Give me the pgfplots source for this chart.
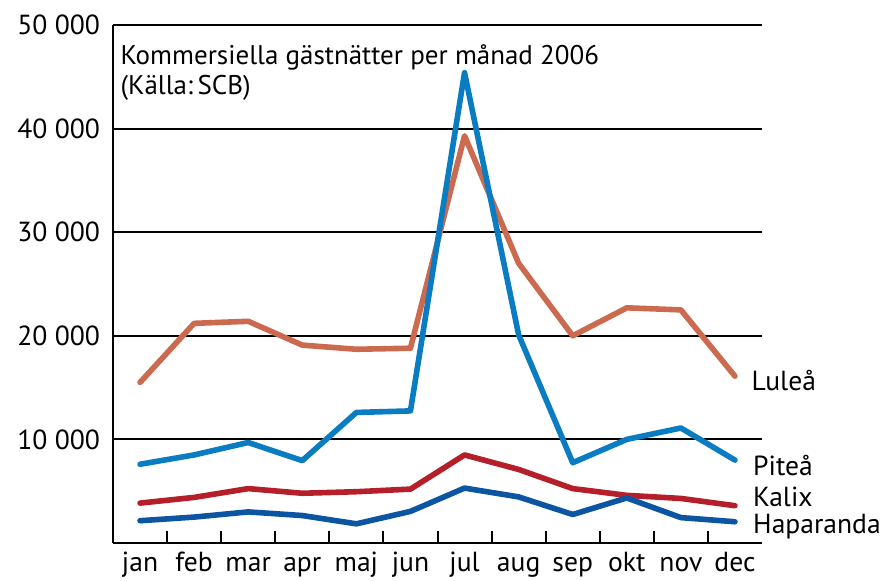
\documentclass[border=0pt]{standalone}
\usepackage{fontspec}
\setmainfont{PT Sans}
\usepackage{pgfplots}
\pgfplotsset{compat=1.18}
\definecolor{lulea}{HTML}{CC6A50}
\definecolor{pitea}{HTML}{0A7DC2}
\definecolor{kalix}{HTML}{B51F2A}
\definecolor{hapa}{HTML}{0B55A3}
\begin{document}
\begin{tikzpicture}
\path[use as bounding box] (-56.5pt,-19pt) rectangle (390.5pt,271.5pt);
\begin{axis}[
  scale only axis, width=324.5pt, height=259pt,
  xmin=-0.5, xmax=11.5, ymin=0, ymax=50000,
  scaled y ticks=false,
  /pgf/number format/assume math mode=true,
  axis x line*=bottom, axis y line*=left,
  axis line style={line width=1.1pt},
  xtick={0,...,11},
  xticklabels={jan,feb,mar,apr,maj,jun,jul,aug,sep,okt,nov,dec},
  extra x ticks={0.5,1.5,...,10.5},
  extra x tick labels={},
  extra x tick style={grid=none, major tick length=6pt, tick align=inside, tick style={line width=1pt, black}},
  major tick length=0pt,
  ytick={10000,20000,30000,40000,50000},
  yticklabels={10 000,20 000,30 000,40 000,50 000},
  ymajorgrids, grid style={black, line width=1pt},
  tick label style={font=\fontsize{13.8}{15}\selectfont},
  yticklabel style={xshift=-3pt},
  xticklabel style={anchor=base, yshift=-14.5pt, inner sep=0pt},
  every axis plot/.append style={line width=2.8pt, mark=none, line join=round, line cap=round},
  clip=false,
]
\addplot[lulea] coordinates {(0,15500)(1,21200)(2,21400)(3,19100)(4,18700)(5,18800)(6,39300)(7,27000)(8,20000)(9,22700)(10,22500)(11,16100)};
\addplot[pitea] coordinates {(0,7600)(1,8500)(2,9700)(3,7950)(4,12600)(5,12750)(6,45400)(7,20100)(8,7750)(9,10000)(10,11100)(11,8000)};
\addplot[kalix] coordinates {(0,3850)(1,4400)(2,5250)(3,4800)(4,4950)(5,5200)(6,8500)(7,7100)(8,5250)(9,4600)(10,4300)(11,3600)};
\addplot[hapa] coordinates {(0,2150)(1,2500)(2,3000)(3,2650)(4,1850)(5,3050)(6,5300)(7,4450)(8,2750)(9,4350)(10,2450)(11,2050)};
\node[anchor=north west, align=left, inner sep=0pt, font=\fontsize{13.5}{15}\selectfont] at (rel axis cs:0.011,0.962) {Kommersiella gästnätter per månad 2006\\(Källa:\,SCB)};
\node[anchor=west, inner sep=0pt, font=\fontsize{13.8}{15}\selectfont] at (axis cs:11.3,15700) {Luleå};
\node[anchor=west, inner sep=0pt, font=\fontsize{13.8}{15}\selectfont] at (axis cs:11.33,7500) {Piteå};
\node[anchor=west, inner sep=0pt, font=\fontsize{13.8}{15}\selectfont] at (axis cs:11.33,4450) {Kalix};
\node[anchor=west, inner sep=0pt, font=\fontsize{13.8}{15}\selectfont] at (axis cs:11.33,1550) {Haparanda};
\end{axis}
\end{tikzpicture}
\end{document}
